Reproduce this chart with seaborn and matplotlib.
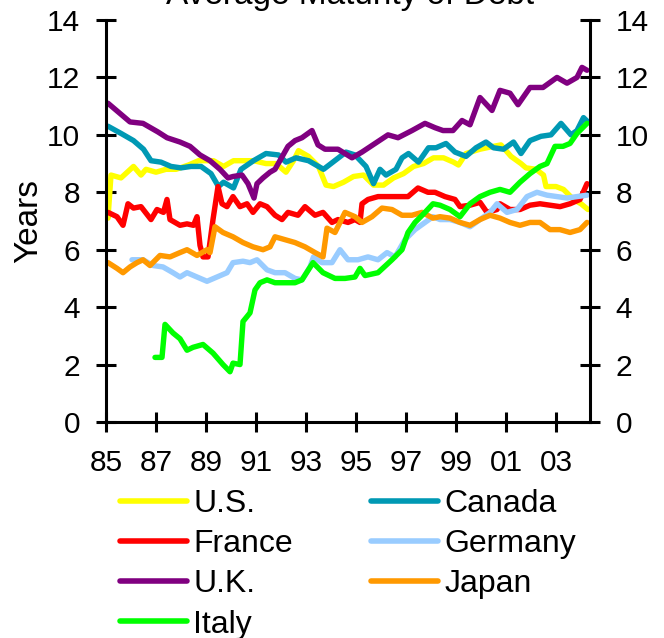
import matplotlib
matplotlib.use("Agg")
import matplotlib.pyplot as plt
import seaborn as sns
import pandas as pd

# ---------------- data (fractional years, years to maturity) ----------------
us_x = [1985.0, 1985.08, 1985.2, 1985.6, 1986.1, 1986.4, 1986.6, 1987.0, 1987.4, 1987.8, 1988.3,
        1988.7, 1989.3, 1989.7, 1990.1, 1990.5, 1990.9, 1991.4, 1991.8, 1992.2, 1992.5, 1992.7,
        1993.1, 1993.5, 1993.8, 1994.1, 1994.5, 1994.9, 1995.3, 1995.7, 1996.1, 1996.5, 1996.9,
        1997.3, 1997.7, 1998.1, 1998.5, 1998.9, 1999.1, 1999.4, 1999.96, 2000.5, 2000.8, 2001.2,
        2001.6, 2001.8, 2002.2, 2002.5, 2002.6, 2003.0, 2003.3, 2003.7, 2004.0, 2004.28]
us_y = [8.2, 7.1, 8.6, 8.5, 8.9, 8.6, 8.8, 8.7, 8.8, 8.8, 8.95,
        9.1, 9.1, 8.9, 9.1, 9.1, 9.1, 9.0, 9.0, 8.7, 9.1, 9.45,
        9.25, 8.9, 8.25, 8.2, 8.35, 8.55, 8.6, 8.25, 8.25, 8.5, 8.65,
        8.9, 9.0, 9.2, 9.2, 9.05, 8.95, 9.35, 9.5, 9.6, 9.65, 9.25,
        9.0, 8.85, 8.8, 8.6, 8.2, 8.2, 8.1, 7.75, 7.6, 7.4]

canada_x = [1985.08, 1985.6, 1986.1, 1986.5, 1986.8, 1987.2, 1987.6, 1988.0, 1988.4, 1988.8,
            1989.2, 1989.5, 1989.7, 1990.1, 1990.4, 1990.9, 1991.4, 1991.9, 1992.2, 1992.6,
            1993.1, 1993.7, 1994.0, 1994.6, 1994.96, 1995.4, 1995.7, 1995.96, 1996.2, 1996.6,
            1996.84, 1997.1, 1997.5, 1997.9, 1998.2, 1998.6, 1998.96, 1999.4, 1999.8, 2000.2,
            2000.5, 2000.9, 2001.3, 2001.6, 2001.96, 2002.4, 2002.8, 2003.2, 2003.6, 2003.84,
            2004.1, 2004.28]
canada_y = [10.3, 10.05, 9.8, 9.5, 9.1, 9.05, 8.9, 8.85, 8.9, 8.9,
            8.65, 8.2, 8.35, 8.15, 8.8, 9.1, 9.35, 9.3, 9.05, 9.2,
            9.1, 8.8, 9.0, 9.4, 9.3, 8.9, 8.3, 8.8, 8.6, 8.8,
            9.2, 9.35, 9.05, 9.55, 9.55, 9.7, 9.4, 9.25, 9.55, 9.75,
            9.55, 9.5, 9.75, 9.35, 9.8, 9.95, 10.0, 10.4, 10.0, 10.15,
            10.6, 10.45]

france_x = [1985.08, 1985.44, 1985.68, 1985.88, 1986.1, 1986.4, 1986.8, 1987.04, 1987.3, 1987.44,
            1987.56, 1987.96, 1988.24, 1988.5, 1988.64, 1988.76, 1988.88, 1989.08, 1989.28, 1989.48,
            1989.64, 1989.84, 1990.08, 1990.36, 1990.64, 1990.88, 1991.16, 1991.44, 1991.76, 1992.04,
            1992.28, 1992.68, 1992.96, 1993.36, 1993.68, 1994.04, 1994.28, 1994.68, 1994.96, 1995.16,
            1995.24, 1995.48, 1995.88, 1996.28, 1996.68, 1997.08, 1997.48, 1997.88, 1998.16, 1998.56,
            1998.96, 1999.16, 1999.56, 1999.96, 2000.24, 2000.64, 2000.76, 2001.16, 2001.56, 2001.96,
            2002.36, 2002.76, 2003.16, 2003.56, 2003.96, 2004.24]
france_y = [7.3, 7.15, 6.85, 7.6, 7.45, 7.5, 7.05, 7.4, 7.3, 7.75,
            7.05, 6.85, 6.9, 6.85, 7.15, 6.15, 5.75, 5.75, 7.05, 8.2,
            7.6, 7.5, 7.85, 7.5, 7.6, 7.3, 7.6, 7.5, 7.2, 7.05,
            7.3, 7.2, 7.5, 7.2, 7.3, 6.95, 7.05, 6.95, 7.05, 6.95,
            7.6, 7.75, 7.85, 7.85, 7.85, 7.85, 8.15, 8.0, 8.0, 7.85,
            7.75, 7.5, 7.55, 7.65, 7.3, 7.4, 7.6, 7.4, 7.4, 7.55,
            7.6, 7.55, 7.5, 7.6, 7.75, 8.3]

germany_x = [1986.04, 1986.48, 1986.88, 1987.28, 1987.68, 1987.96, 1988.24, 1988.64, 1989.04, 1989.44,
             1989.84, 1990.08, 1990.48, 1990.76, 1991.04, 1991.44, 1991.76, 1992.16, 1992.56, 1992.84,
             1993.16, 1993.3, 1993.64, 1994.04, 1994.36, 1994.68, 1995.08, 1995.48, 1995.88, 1996.24,
             1996.56, 1996.96, 1997.36, 1997.76, 1998.08, 1998.36, 1998.76, 1999.16, 1999.56, 1999.96,
             2000.36, 2000.64, 2001.04, 2001.44, 2001.84, 2002.24, 2002.64, 2003.04, 2003.44, 2003.84,
             2004.24]
germany_y = [5.65, 5.65, 5.45, 5.4, 5.2, 5.05, 5.2, 5.05, 4.9, 5.05,
             5.2, 5.55, 5.6, 5.55, 5.65, 5.3, 5.2, 5.2, 5.0, 4.95,
             5.4, 5.75, 5.55, 5.55, 6.0, 5.65, 5.65, 5.75, 5.65, 5.9,
             5.75, 6.35, 6.7, 6.95, 7.15, 7.05, 7.05, 6.95, 6.8, 7.05,
             7.3, 7.6, 7.3, 7.4, 7.85, 8.0, 7.9, 7.85, 7.8, 7.85,
             7.9]

uk_x = [1985.08, 1985.96, 1986.48, 1987.08, 1987.44, 1987.96, 1988.36, 1988.76, 1989.16, 1989.56,
        1989.88, 1990.08, 1990.44, 1990.68, 1990.92, 1991.04, 1991.28, 1991.56, 1991.76, 1992.28,
        1992.56, 1992.84, 1993.24, 1993.48, 1993.76, 1994.28, 1994.84, 1995.24, 1995.76, 1996.28,
        1996.68, 1997.24, 1997.76, 1998.16, 1998.48, 1998.88, 1999.24, 1999.56, 1999.96, 2000.44,
        2000.76, 2001.16, 2001.48, 2001.96, 2002.48, 2003.04, 2003.44, 2003.84, 2004.04, 2004.24]
uk_y = [11.1, 10.45, 10.4, 10.1, 9.9, 9.75, 9.6, 9.3, 9.1, 8.8,
        8.5, 8.55, 8.6, 8.3, 7.8, 8.3, 8.5, 8.7, 8.8, 9.6,
        9.8, 9.9, 10.15, 9.65, 9.5, 9.5, 9.2, 9.4, 9.7, 10.0,
        9.9, 10.15, 10.4, 10.25, 10.15, 10.15, 10.5, 10.35, 11.3, 10.85,
        11.55, 11.45, 11.05, 11.65, 11.65, 12.0, 11.8, 12.0, 12.35, 12.25]

japan_x = [1985.08, 1985.44, 1985.68, 1985.96, 1986.24, 1986.48, 1986.76, 1987.16, 1987.56, 1987.96,
           1988.24, 1988.64, 1989.04, 1989.16, 1989.36, 1989.68, 1990.08, 1990.48, 1990.88, 1991.28,
           1991.56, 1991.76, 1992.16, 1992.56, 1992.96, 1993.36, 1993.68, 1993.84, 1994.16, 1994.56,
           1994.96, 1995.24, 1995.64, 1996.04, 1996.44, 1996.84, 1997.24, 1997.64, 1998.08, 1998.36,
           1998.76, 1999.16, 1999.56, 1999.96, 2000.36, 2000.76, 2001.16, 2001.56, 2001.96, 2002.36,
           2002.76, 2003.16, 2003.56, 2003.96, 2004.24]
japan_y = [5.55, 5.35, 5.2, 5.4, 5.55, 5.65, 5.45, 5.8, 5.75, 5.9,
           6.0, 5.8, 6.0, 5.9, 6.8, 6.6, 6.45, 6.25, 6.1, 6.0,
           6.1, 6.45, 6.35, 6.25, 6.1, 5.9, 5.75, 6.75, 6.6, 7.3,
           7.15, 6.95, 7.15, 7.45, 7.4, 7.2, 7.2, 7.3, 7.1, 7.15,
           7.1, 6.95, 6.85, 7.05, 7.2, 7.1, 6.95, 6.85, 6.95, 6.95,
           6.7, 6.7, 6.6, 6.7, 6.95]

italy_x = [1986.96, 1987.24, 1987.36, 1987.68, 1987.96, 1988.24, 1988.48, 1988.88, 1989.28, 1989.68,
           1989.96, 1990.08, 1990.36, 1990.48, 1990.76, 1990.96, 1991.16, 1991.44, 1991.76, 1992.16,
           1992.56, 1992.84, 1993.28, 1993.68, 1994.16, 1994.56, 1994.96, 1995.16, 1995.36, 1995.88,
           1996.44, 1996.84, 1997.08, 1997.36, 1997.76, 1998.08, 1998.36, 1998.76, 1999.16, 1999.56,
           1999.96, 2000.36, 2000.76, 2001.16, 2001.56, 2001.96, 2002.36, 2002.64, 2002.96, 2003.28,
           2003.56, 2003.84, 2004.24]
italy_y = [2.25, 2.25, 3.4, 3.1, 2.9, 2.5, 2.6, 2.7, 2.4, 2.0,
           1.75, 2.05, 2.0, 3.5, 3.8, 4.6, 4.85, 4.95, 4.85, 4.85,
           4.85, 4.95, 5.55, 5.2, 5.0, 5.0, 5.05, 5.35, 5.1, 5.2,
           5.65, 6.0, 6.6, 6.95, 7.3, 7.6, 7.55, 7.4, 7.15, 7.6,
           7.85, 8.0, 8.1, 8.0, 8.35, 8.65, 8.9, 9.0, 9.6, 9.6,
           9.7, 10.05, 10.4]

series_names = ["U.S.", "France", "U.K.", "Italy", "Canada", "Germany", "Japan"]
series_colors = ["#FFFF00", "#FF0000", "#800080", "#00FF00", "#0099B4", "#99CCFF", "#FF9900"]
x_tick_vals = [1985, 1987, 1989, 1991, 1993, 1995, 1997, 1999, 2001, 2003]
x_tick_labels = ["85", "87", "89", "91", "93", "95", "97", "99", "01", "03"]
y_ticks = [0, 2, 4, 6, 8, 10, 12, 14]
title_text = "Average Maturity of Debt"
y_label = "Years"

data = {
    "U.S.": (us_x, us_y), "France": (france_x, france_y), "U.K.": (uk_x, uk_y),
    "Italy": (italy_x, italy_y), "Canada": (canada_x, canada_y),
    "Germany": (germany_x, germany_y), "Japan": (japan_x, japan_y),
}
draw_order = ["U.S.", "Canada", "France", "Germany", "U.K.", "Japan", "Italy"]

# ---------------- style ----------------
sns.set_style("ticks")
plt.rcParams["font.family"] = ["Liberation Sans", "DejaVu Sans"]
plt.rcParams["font.size"] = 21.5
for key in ["text.color", "axes.labelcolor", "xtick.color", "ytick.color",
            "xtick.labelcolor", "ytick.labelcolor"]:
    plt.rcParams[key] = "black"

fig = plt.figure(figsize=(6.64, 6.38), dpi=100)
ax = fig.add_axes([106 / 664, 1 - 422 / 638, 484 / 664, 402 / 638])

color_map = dict(zip(series_names, series_colors))
handles = {}
for name in draw_order:
    xs, ys = data[name]
    df = pd.DataFrame({"year": xs, "value": ys})
    sns.lineplot(data=df, x="year", y="value", ax=ax, color=color_map[name],
                 linewidth=3.9, estimator=None, sort=False, label=name,
                 solid_joinstyle="round", solid_capstyle="round")
    handles[name] = ax.lines[-1]

ax.set_xlim(1985.0, 2004.36)
ax.set_ylim(0, 14)
ax.set_xticks(x_tick_vals)
ax.set_xticklabels(x_tick_labels)
ax.set_yticks(y_ticks)
ax.set_xlabel("")
ax.set_ylabel(y_label, fontsize=24, labelpad=2, color="black")

for side in ["left", "right", "bottom"]:
    ax.spines[side].set_visible(True)
    ax.spines[side].set_linewidth(2.2)
    ax.spines[side].set_color("black")
ax.spines["top"].set_visible(False)

ax.tick_params(axis="both", direction="inout", length=15, width=2.2, color="black",
               labelcolor="black", labelsize=21.5, pad=11)
ax.tick_params(axis="y", left=True, right=True, labelleft=True, labelright=True)
ax.tick_params(axis="x", bottom=True, top=False, pad=12)

ax.get_legend().remove()
leg = fig.legend([handles[n] for n in series_names], series_names, ncol=2,
                 loc="upper left", bbox_to_anchor=(120 / 664, 1 - 489 / 638),
                 bbox_transform=fig.transFigure, frameon=False, fontsize=23,
                 handlelength=2.1, handletextpad=0.2, columnspacing=2.45,
                 labelspacing=0.32, borderpad=0, borderaxespad=0)
for line in leg.get_lines():
    line.set_linewidth(4)
for t in leg.get_texts():
    t.set_color("black")

fig.text(350 / 664, 1 - 4 / 638, title_text, ha="center", va="baseline", fontsize=24,
         color="black")

fig.savefig("out.png", dpi=100)
